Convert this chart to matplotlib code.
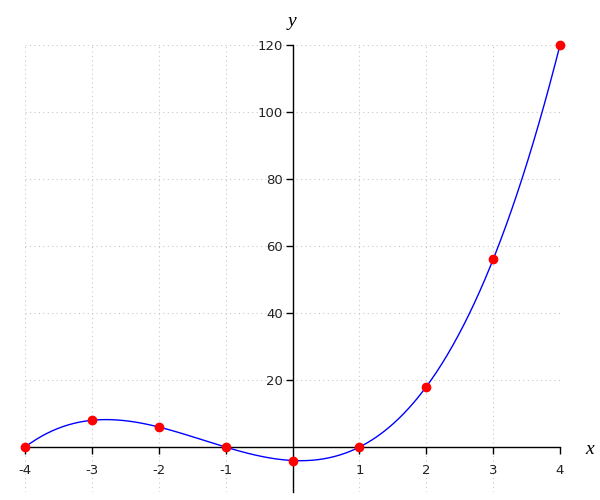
import numpy as np
import matplotlib.pyplot as plt

# points
x_pts = [-4, -3, -2, -1, 0, 1, 2, 3, 4]
y_pts = [0, 8, 6, 0, -4, 0, 18, 56, 120]
x_ticks = [-4, -3, -2, -1, 1, 2, 3, 4]
y_ticks = [20, 40, 60, 80, 100, 120]

# courbe lisse passant par les points (polynome de degre 3)
coef = np.polyfit(x_pts, y_pts, 3)
xx = np.linspace(min(x_pts), max(x_pts), 400)
yy = np.polyval(coef, xx)

fig = plt.figure(figsize=(6, 5), dpi=100)
ax = fig.add_axes([25/600, 1-492/500, 535/600, 447/500])

ax.grid(True, color='#c8c8c8', linestyle=(0, (1, 3)), linewidth=0.8)
ax.plot(xx, yy, color='blue', linewidth=1, zorder=3)
ax.plot(x_pts, y_pts, 'o', color='red', markersize=6, zorder=4, clip_on=False)

ax.set_xlim(-4, 4)
ax.set_ylim(-13.4, 120)

ax.spines['left'].set_position(('data', 0))
ax.spines['bottom'].set_position(('data', 0))
ax.spines['right'].set_visible(False)
ax.spines['top'].set_visible(False)
for s in ['left', 'bottom']:
    ax.spines[s].set_linewidth(1)
    ax.spines[s].set_color('black')

ax.set_xticks(x_ticks)
ax.set_xticklabels([str(v) for v in x_ticks])
ax.set_yticks(y_ticks)
ax.set_yticklabels([str(v) for v in y_ticks])
ax.tick_params(axis='both', direction='out', length=5, width=1, labelsize=9.5, labelcolor='#222222')
ax.tick_params(axis='x', pad=7)
ax.tick_params(axis='y', pad=2)

fig.text(590/600, 1-449/500, 'x', fontsize=14, family='Liberation Serif', style='italic', ha='center', va='center')
fig.text(292/600, 1-22/500, 'y', fontsize=14, family='Liberation Serif', style='italic', ha='center', va='center')

plt.savefig('out.png', dpi=100)
